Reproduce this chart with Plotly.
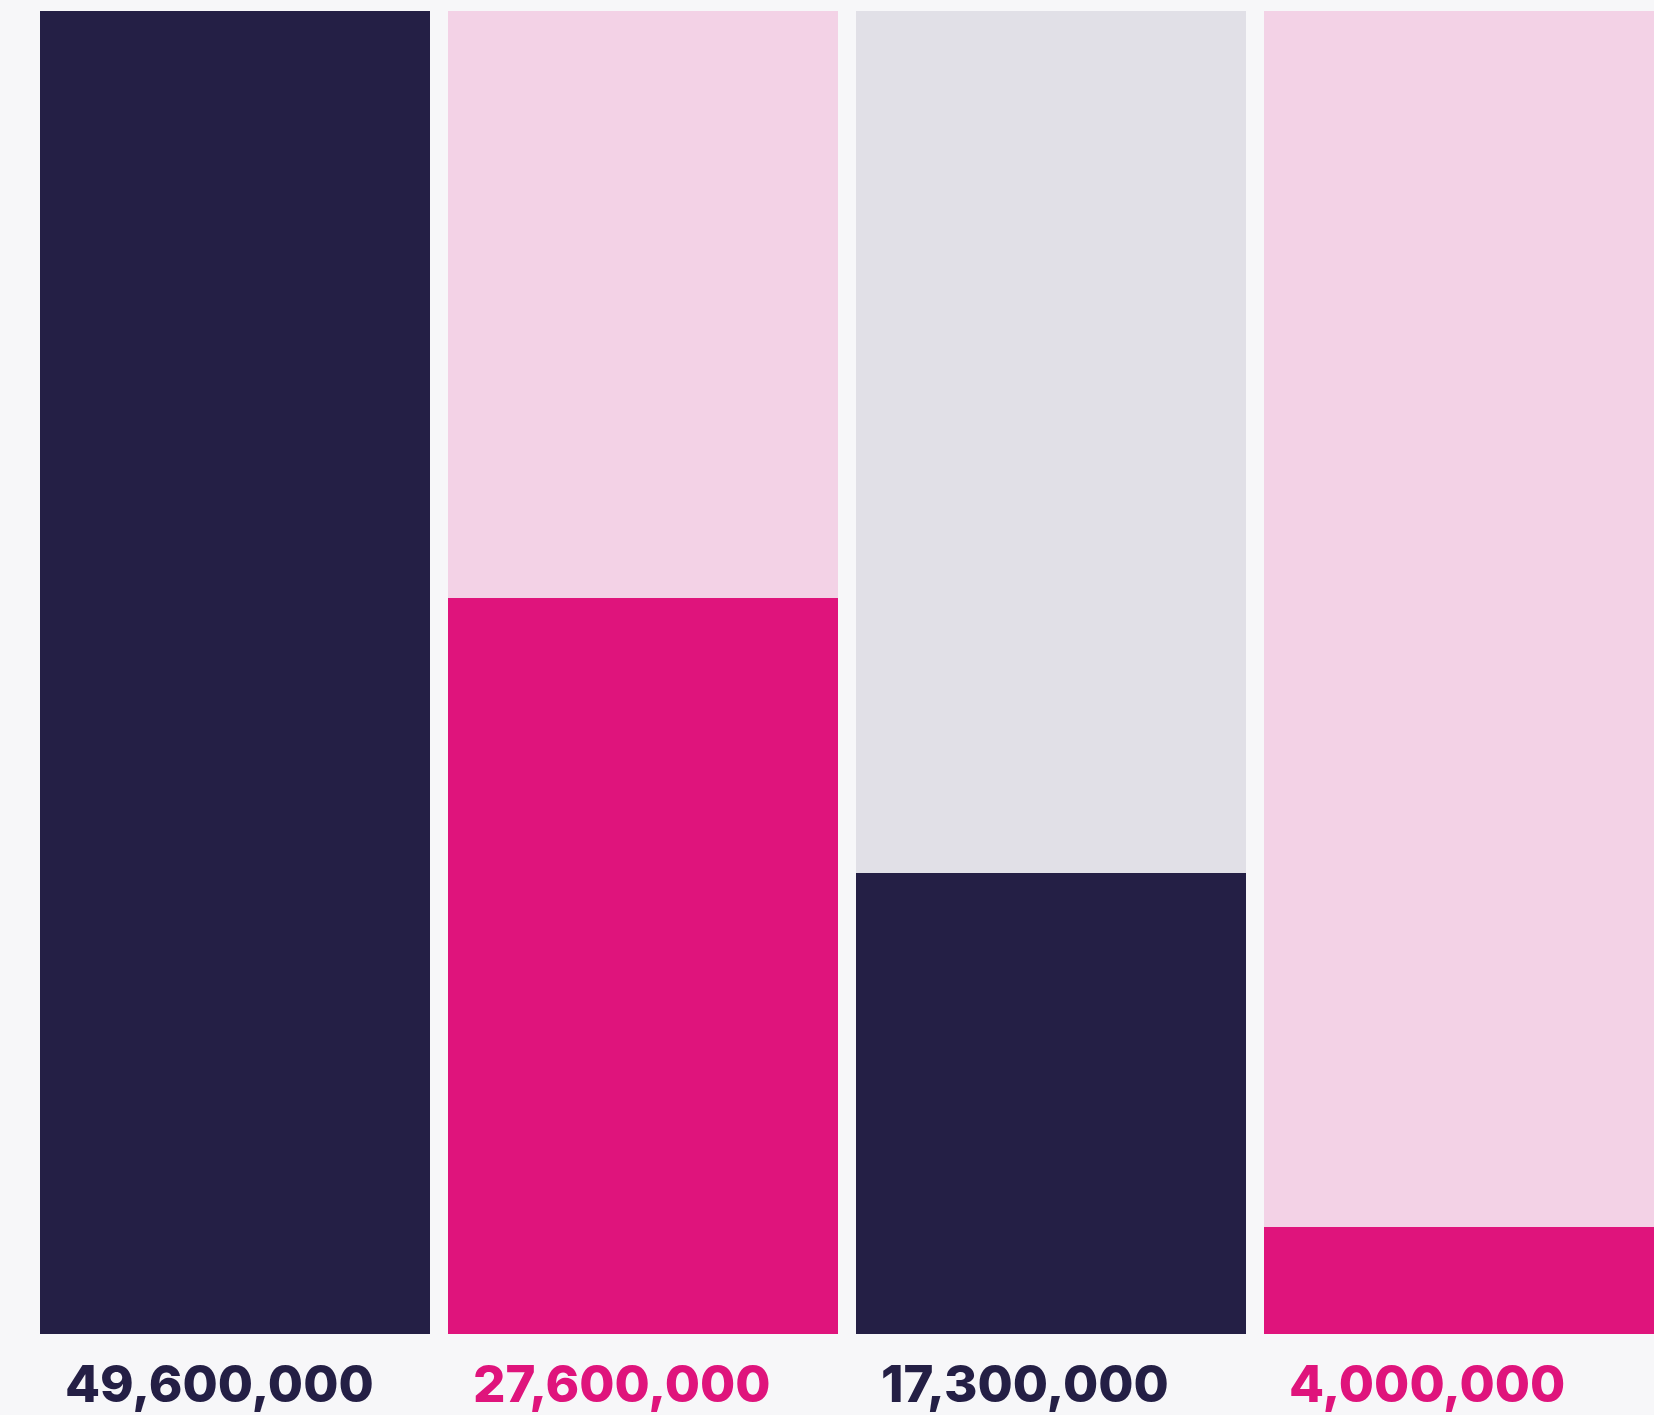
import plotly.graph_objects as go

categories = ["A", "B", "C", "D"]
values = [49600000, 27600000, 17300000, 4000000]
labels = ["49,600,000", "27,600,000", "17,300,000", "4,000,000"]
total = 49600000

DARK = "#241f45"
FUCHSIA = "#df147c"
PINK = "#f3d2e6"
GRAY = "#e1e0e7"

front_colors = [DARK, FUCHSIA, DARK, FUCHSIA]
back_colors = [DARK, PINK, GRAY, PINK]
label_colors = [DARK, FUCHSIA, DARK, FUCHSIA]

xs = list(range(len(categories)))
W = 1654
H = 1415
period = 408.0
bar_w = 390.0 / period
x0_center = 235.0

fig = go.Figure()
fig.add_trace(go.Bar(x=xs, y=[total] * len(xs), width=bar_w,
                     marker=dict(color=back_colors, line=dict(width=0)),
                     hoverinfo="skip"))
fig.add_trace(go.Bar(x=xs, y=values, width=bar_w,
                     marker=dict(color=front_colors, line=dict(width=0))))

for i, (lab, col) in enumerate(zip(labels, label_colors)):
    fig.add_annotation(x=i - bar_w / 2, y=0, xref="x", yref="y",
                       text=lab, showarrow=False, xanchor="left", yanchor="middle",
                       xshift=23, yshift=-49,
                       font=dict(family="Inter", size=51, color=col, weight=800))

fig.update_layout(
    width=W, height=H, barmode="overlay", bargap=0,
    showlegend=False,
    paper_bgcolor="#f7f7f9", plot_bgcolor="rgba(0,0,0,0)",
    margin=dict(l=0, r=0, t=11, b=81),
    xaxis=dict(range=[-x0_center / period, (W - x0_center) / period],
               visible=False, fixedrange=True),
    yaxis=dict(range=[0, total], visible=False, fixedrange=True),
)

fig.write_html("out.html")
